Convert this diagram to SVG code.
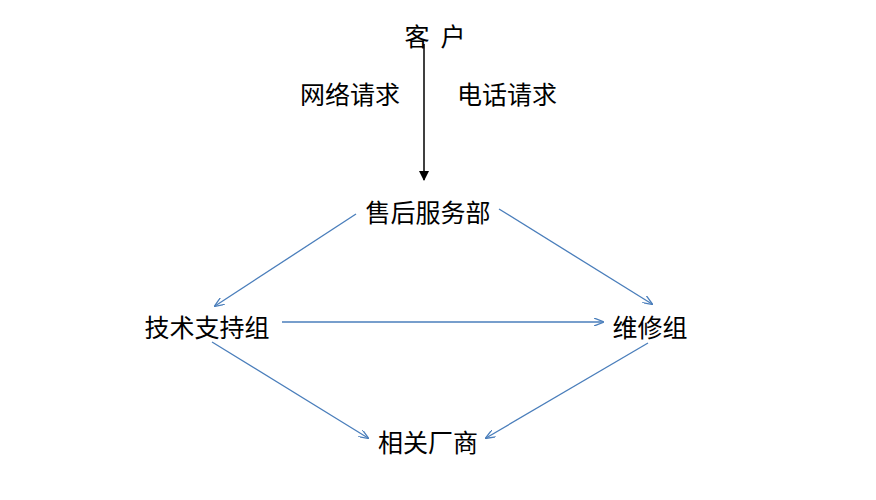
<svg xmlns="http://www.w3.org/2000/svg" width="876" height="500" viewBox="0 0 876 500">
<style>
text{font-family:"Noto Sans CJK SC","Noto Sans",sans-serif;font-size:25px;fill:#000;text-anchor:middle;dominant-baseline:central}
.b{stroke:#4a7ebb;stroke-width:1.3;fill:none;marker-end:url(#ab)}
</style>
<defs>
<marker id="ab" markerWidth="10" markerHeight="8" refX="9" refY="4" orient="auto" markerUnits="userSpaceOnUse"><path d="M0,0 L10,4 L0,8" fill="none" stroke="#4a7ebb" stroke-width="1.3"/></marker>
<marker id="ak" markerWidth="10" markerHeight="10" refX="9" refY="5" orient="auto" markerUnits="userSpaceOnUse"><path d="M0,0 L10,5 L0,10 Z" fill="#000"/></marker>
</defs>
<rect width="876" height="500" fill="#fff"/>
<g id="connectors">
<line x1="424" y1="44" x2="424" y2="180" stroke="#000" stroke-width="1.5" marker-end="url(#ak)"/>
<line class="b" x1="356" y1="214" x2="215" y2="306"/>
<line class="b" x1="499" y1="209" x2="652" y2="304"/>
<line class="b" x1="282" y1="322" x2="603" y2="322"/>
<line class="b" x1="212" y1="342" x2="368" y2="438"/>
<line class="b" x1="648" y1="343" x2="486" y2="438"/>
</g>
<g id="customer"><text x="417" y="35">客</text><text x="453" y="35">户</text></g>
<g id="label-web"><text x="350" y="93">网络请求</text></g>
<g id="label-phone"><text x="507" y="93">电话请求</text></g>
<g id="service"><text x="428" y="211">售后服务部</text></g>
<g id="tech"><text x="207" y="326">技术支持组</text></g>
<g id="repair"><text x="650" y="326">维修组</text></g>
<g id="vendor"><text x="428" y="441">相关厂商</text></g>
</svg>
